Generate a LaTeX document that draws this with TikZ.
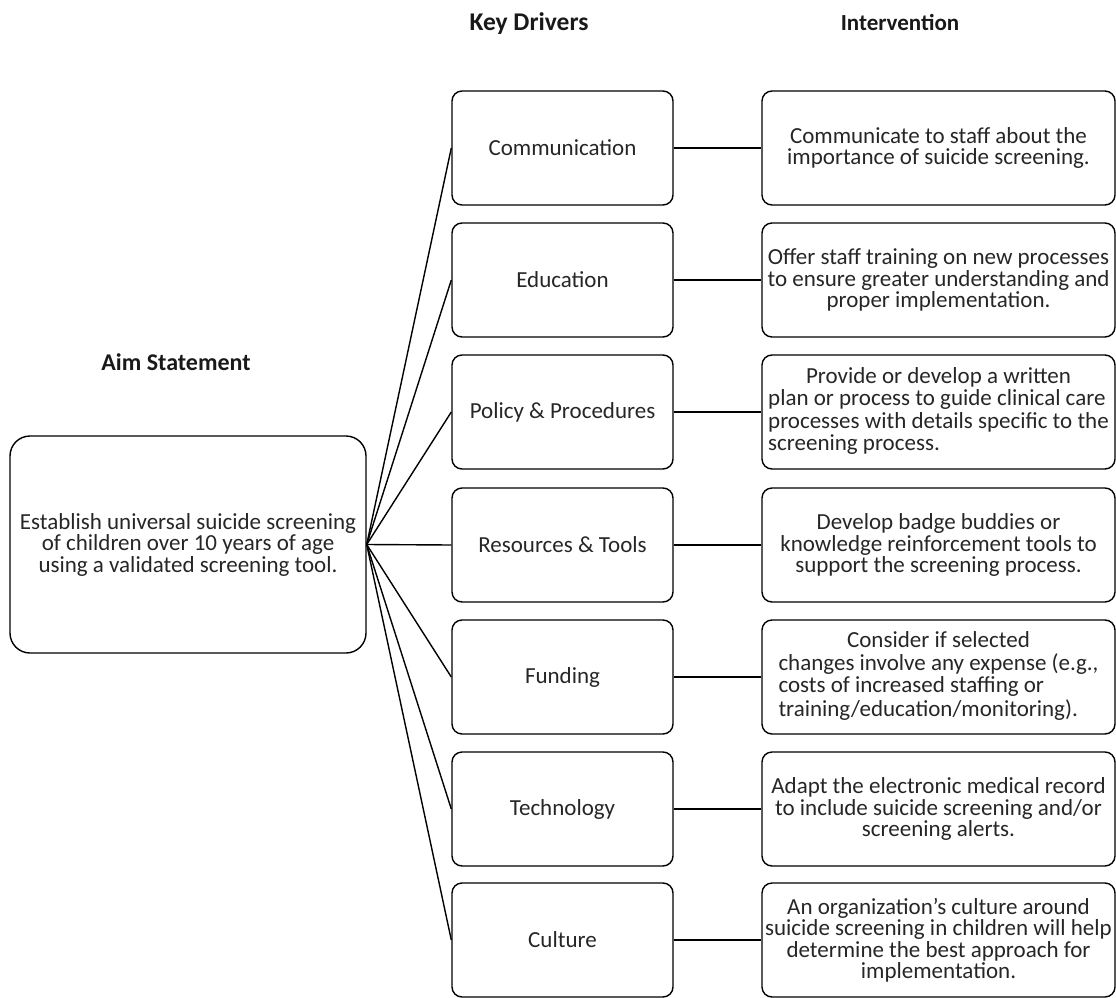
\documentclass[tikz,border=0pt]{standalone}
\usepackage{fontspec}
\setmainfont{Carlito}
\begin{document}
\begin{tikzpicture}[x=1pt,y=-1pt,
  box/.style={draw, line width=1.4pt, rounded corners=10pt, minimum width=221pt, minimum height=114pt, inner sep=0pt, align=center, font=\fontsize{23}{21.5}\selectfont, text=black!85},
  ibox/.style={box, minimum width=353pt},
  aimbox/.style={box, rounded corners=20pt, minimum width=356pt, minimum height=217pt},
  head/.style={font=\bfseries\fontsize{24}{28}\selectfont, text=black!90},
  conn/.style={line width=1.4pt}]
\useasboundingbox (0,0) rectangle (1116,998);

\node[head, font=\bfseries\fontsize{25.5}{28}\selectfont] (hkd) at (529,24) {Key Drivers};
\node[head, font=\bfseries\fontsize{23}{28}\selectfont] (hiv) at (900,22) {Intervention};
\node[head] (haim) at (176,362) {Aim Statement};

\node[aimbox] (aim) at (188,544.5) {Establish universal suicide screening\\of children over 10 years of age\\using a validated screening tool.};

\node[box] (kd1) at (562.5,148) {Communication};
\node[box] (kd2) at (562.5,280) {Education};
\node[box] (kd3) at (562.5,412) {Policy \& Procedures};
\node[box] (kd4) at (562.5,545) {Resources \& Tools};
\node[box] (kd5) at (562.5,677) {Funding};
\node[box] (kd6) at (562.5,809) {Technology};
\node[box] (kd7) at (562.5,940) {Culture};

\node[ibox] (iv1) at (938.5,148) {Communicate to staff about the\\importance of suicide screening.};
\node[ibox] (iv2) at (938.5,280) {Offer staff training on new processes\\to ensure greater understanding and\\proper implementation.};
\node[ibox] (iv3) at (938.5,412) {\begin{tabular}{@{}l@{}}\multicolumn{1}{@{}c@{}}{Provide or develop a written}\\plan or process to guide clinical care\\processes with details specific to the\\screening process.\end{tabular}};
\node[ibox] (iv4) at (938.5,545) {Develop badge buddies or\\knowledge reinforcement tools to\\support the screening process.};
\node[ibox] (iv5) at (938.5,677) {\begin{tabular}{@{}l@{}}\multicolumn{1}{@{}c@{}}{Consider if selected}\\changes involve any expense (e.g.,\\costs of increased staffing or\\training/education/monitoring).\end{tabular}};
\node[ibox] (iv6) at (938.5,809) {Adapt the electronic medical record\\to include suicide screening and/or\\screening alerts.};
\node[ibox] (iv7) at (938.5,940) {An organization's culture around\\suicide screening in children will help\\determine the best approach for\\implementation.};

\foreach \i in {1,...,7}{
  \draw[conn] (aim.east) -- (kd\i.west);
  \draw[conn] (kd\i.east) -- (iv\i.west);
}
\end{tikzpicture}
\end{document}
